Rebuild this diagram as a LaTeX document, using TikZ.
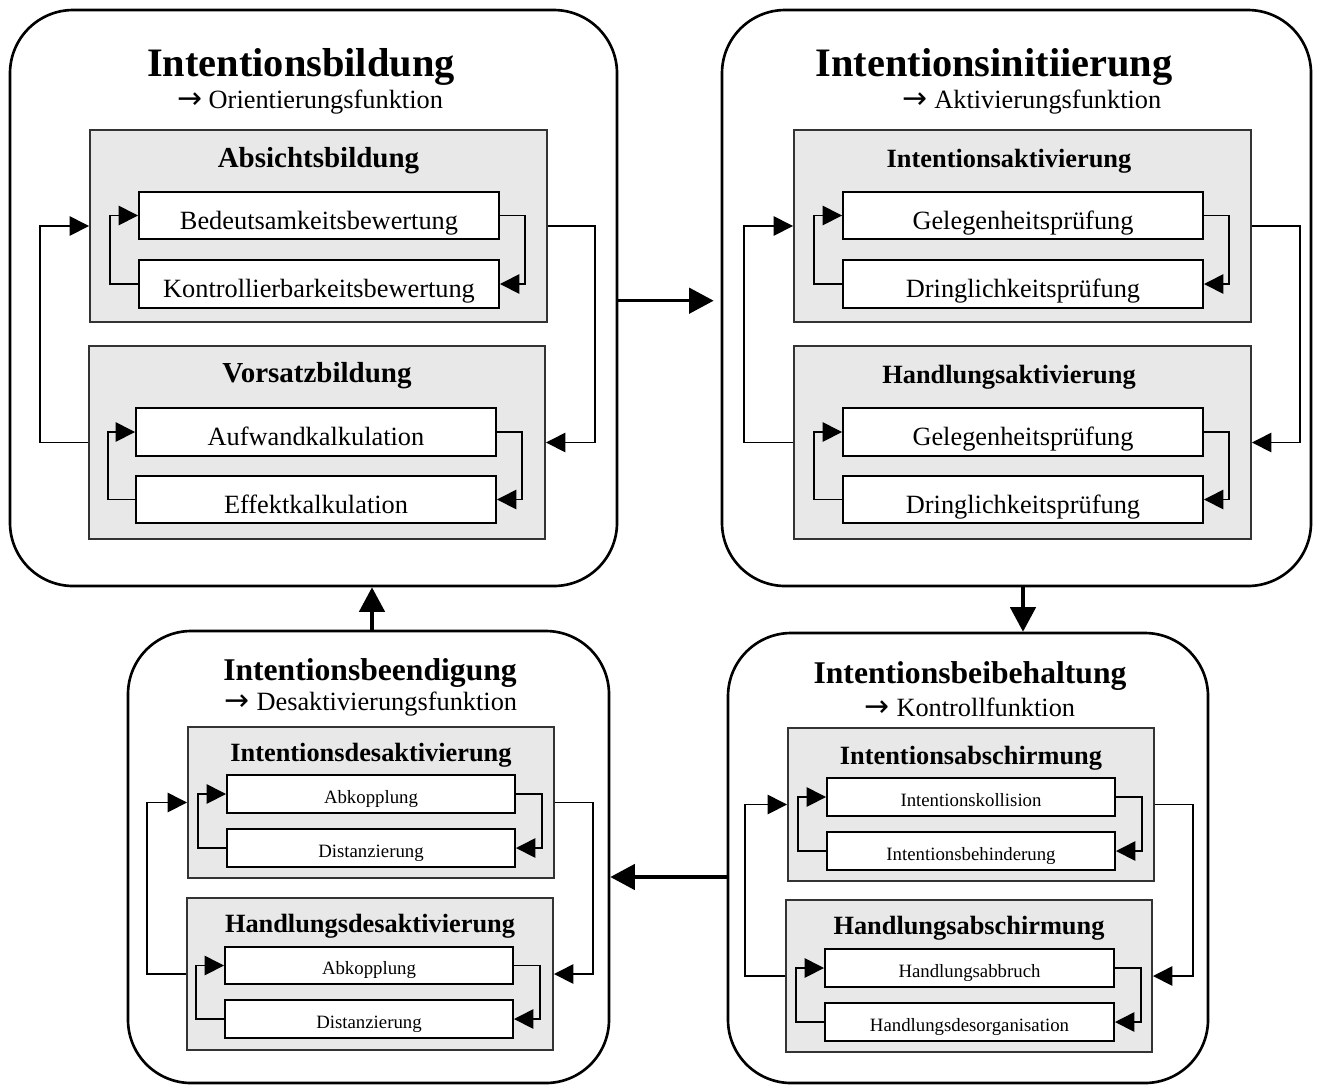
\documentclass[tikz,border=0pt]{standalone}
\usepackage{fontspec}
\setmainfont{Liberation Serif}
\newfontfamily\arrowfont{DejaVu Sans}
\usetikzlibrary{arrows.meta}
\newcommand\pxu{0.02cm}
\newcommand\fnarrow{{\arrowfont\fontsize{17}{18}\selectfont →}}

\tikzset{
  sized/.style 2 args={minimum width=#1*\pxu, minimum height=#2*\pxu, inner sep=0pt},
  phase/.style={draw, line width=1.5pt, rounded corners=36pt},
  stage/.style={draw=black!80, line width=1.1pt, fill=black!9},
  item/.style={draw, line width=1.1pt, fill=white, font=\fontsize{15}{18}\selectfont,
    text height=15.6pt, text depth=0pt},
  smallitem/.style={item, font=\fontsize{10.7}{13}\selectfont,
    text height=10.6pt, text depth=0pt},
  bigtitle/.style={font=\bfseries\fontsize{23}{27}\selectfont, inner sep=0pt},
  midtitle/.style={font=\bfseries\fontsize{18}{22}\selectfont, inner sep=0pt},
  subtitle/.style={font=\fontsize{15}{18}\selectfont, inner sep=0pt},
  stagetitle/.style={font=\bfseries\fontsize{16.5}{20}\selectfont, inner sep=0pt},
  smallstagetitle/.style={font=\bfseries\fontsize{15}{18}\selectfont, inner sep=0pt},
  loopline/.style={line width=0.9pt, -{Triangle[length=11pt,width=11pt]}},
  phaseflow/.style={line width=1.9pt, -{Triangle[length=14pt,width=14.5pt]}},
}

\begin{document}
\begin{tikzpicture}[x=0.02cm, y=-0.02cm]
\useasboundingbox (0,0) rectangle (1321,1086);

% ---------- the four phases ----------
\node[phase, sized={607}{576}] (TL) at (313.5,298) {};
\node[phase, sized={589}{576}] (TR) at (1016.5,298) {};
\node[phase, sized={481}{452}] (BL) at (368.5,857) {};
\node[phase, sized={480}{450}] (BR) at (968,858) {};

% ---------- Intentionsbildung ----------
\node[bigtitle] (TLt) at (301,67) {Intentionsbildung};
\node[subtitle] (TLs) at (310,102) {\fnarrow{} Orientierungsfunktion};
\node[stage, sized={457}{192}] (ab) at (318.5,226) {};
\node[stagetitle] at (318.5,161) {Absichtsbildung};
\node[item, sized={360}{47}] (ab1) at (319,215.5) {Bedeutsamkeitsbewertung};
\node[item, sized={360}{48}] (ab2) at (319,284) {Kontrollierbarkeitsbewertung};
\node[stage, sized={456}{193}] (vb) at (317,442.5) {};
\node[stagetitle] at (317,376) {Vorsatzbildung};
\node[item, sized={360}{48}] (vb1) at (316,432) {Aufwandkalkulation};
\node[item, sized={360}{47}] (vb2) at (316,499.5) {Effektkalkulation};

\draw[loopline] (ab1.east) -- ++(25,0) |- (ab2.east);
\draw[loopline] (ab2.west) -- ++(-28,0) |- (ab1.west);
\draw[loopline] (vb1.east) -- ++(25,0) |- (vb2.east);
\draw[loopline] (vb2.west) -- ++(-27,0) |- (vb1.west);
\draw[loopline] (ab.east) -- ++(47,0) |- (vb.east);
\draw[loopline] (vb.west) -- ++(-48,0) |- (ab.west);

% ---------- Intentionsinitiierung ----------
\node[bigtitle] (TRt) at (994,67) {Intentionsinitiierung};
\node[subtitle] (TRs) at (1032,102) {\fnarrow{} Aktivierungsfunktion};
\node[stage, sized={457}{192}] (ia) at (1022.5,226) {};
\node[smallstagetitle] at (1009,161) {Intentionsaktivierung};
\node[item, sized={360}{47}] (ia1) at (1023,215.5) {Gelegenheitsprüfung};
\node[item, sized={360}{48}] (ia2) at (1023,284) {Dringlichkeitsprüfung};
\node[stage, sized={457}{193}] (ha) at (1022.5,442.5) {};
\node[smallstagetitle] at (1009,377) {Handlungsaktivierung};
\node[item, sized={360}{48}] (ha1) at (1023,432) {Gelegenheitsprüfung};
\node[item, sized={360}{47}] (ha2) at (1023,499.5) {Dringlichkeitsprüfung};

\draw[loopline] (ia1.east) -- ++(25,0) |- (ia2.east);
\draw[loopline] (ia2.west) -- ++(-28,0) |- (ia1.west);
\draw[loopline] (ha1.east) -- ++(25,0) |- (ha2.east);
\draw[loopline] (ha2.west) -- ++(-28,0) |- (ha1.west);
\draw[loopline] (ia.east) -- ++(48,0) |- (ha.east);
\draw[loopline] (ha.west) -- ++(-49,0) |- (ia.west);

% ---------- Intentionsbeendigung ----------
\node[midtitle] (BLt) at (370,673) {Intentionsbeendigung};
\node[subtitle] (BLs) at (371,704) {\fnarrow{} Desaktivierungsfunktion};
\node[stage, sized={366}{151}] (id) at (371,802.5) {};
\node[smallstagetitle] at (371,755) {Intentionsdesaktivierung};
\node[smallitem, sized={288}{38}] (id1) at (371,794) {Abkopplung};
\node[smallitem, sized={288}{38}] (id2) at (371,848) {Distanzierung};
\node[stage, sized={366}{152}] (hd) at (370,974) {};
\node[smallstagetitle] at (370,926) {Handlungsdesaktivierung};
\node[smallitem, sized={288}{37}] (hd1) at (369,965.5) {Abkopplung};
\node[smallitem, sized={288}{38}] (hd2) at (369,1019) {Distanzierung};

\draw[loopline] (id1.east) -- ++(26,0) |- (id2.east);
\draw[loopline] (id2.west) -- ++(-28,0) |- (id1.west);
\draw[loopline] (hd1.east) -- ++(26,0) |- (hd2.east);
\draw[loopline] (hd2.west) -- ++(-28,0) |- (hd1.west);
\draw[loopline] (id.east) -- ++(38,0) |- (hd.east);
\draw[loopline] (hd.west) -- ++(-39,0) |- (id.west);

% ---------- Intentionsbeibehaltung ----------
\node[midtitle] (BRt) at (970,676) {Intentionsbeibehaltung};
\node[subtitle] (BRs) at (970,707) {\fnarrow{} Kontrollfunktion};
\node[stage, sized={366}{153}] (is) at (971,804.5) {};
\node[smallstagetitle] at (971,758) {Intentionsabschirmung};
\node[smallitem, sized={288}{38}] (is1) at (971,797) {Intentionskollision};
\node[smallitem, sized={288}{38}] (is2) at (971,851) {Intentionsbehinderung};
\node[stage, sized={366}{152}] (hs) at (969,976) {};
\node[smallstagetitle] at (969,928) {Handlungsabschirmung};
\node[smallitem, sized={289}{38}] (hs1) at (969.5,968) {Handlungsabbruch};
\node[smallitem, sized={289}{38}] (hs2) at (969.5,1022) {Handlungsdesorganisation};

\draw[loopline] (is1.east) -- ++(26,0) |- (is2.east);
\draw[loopline] (is2.west) -- ++(-28,0) |- (is1.west);
\draw[loopline] (hs1.east) -- ++(26,0) |- (hs2.east);
\draw[loopline] (hs2.west) -- ++(-28,0) |- (hs1.west);
\draw[loopline] (is.east) -- ++(38,0) |- (hs.east);
\draw[loopline] (hs.west) -- ++(-40,0) |- (is.west);

% ---------- transitions between the phases ----------
\draw[phaseflow, shorten >=4pt] ([yshift=-2.7*\pxu]TL.east) -- ([yshift=-2.7*\pxu]TL.east -| TR.west);
\draw[phaseflow] ([xshift=6.5*\pxu]TR.south) -- ([xshift=6.5*\pxu]TR.south |- BR.north);
\draw[phaseflow] ([yshift=-19*\pxu]BR.west) -- ([yshift=-19*\pxu]BR.west -| BL.east);
\draw[phaseflow] ([xshift=3.5*\pxu]BL.north) -- ([xshift=3.5*\pxu]BL.north |- TL.south);
\end{tikzpicture}
\end{document}
